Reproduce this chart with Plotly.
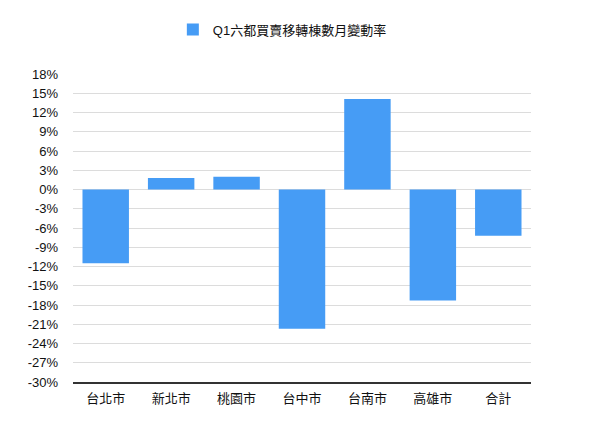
import plotly.graph_objects as go

# Q1 month-on-month change in transfer counts, six municipalities
cities = ['台北市', '新北市', '桃園市', '台中市', '台南市', '高雄市', '合計']
change = [-11.5, 1.8, 2.0, -21.7, 14.1, -17.3, -7.2]
series_name = 'Q1六都買賣移轉棟數月變動率'
tick_vals = list(range(-30, 19, 3))
tick_text = [str(v) + '%' for v in tick_vals]

fig = go.Figure()
fig.add_trace(go.Bar(x=cities, y=change, name=series_name,
                     marker=dict(color='#469cf5', line=dict(width=0)),
                     showlegend=True))

# page body has an 8px margin, so the figure is a bit smaller than the window
fig.update_layout(
    width=592, height=425,
    margin=dict(l=65, r=69, t=66, b=51, autoexpand=False),
    paper_bgcolor='white', plot_bgcolor='white',
    font=dict(family='Liberation Sans, Noto Sans CJK TC', size=13, color='#111'),
    bargap=0.29,
    showlegend=True,
    legend=dict(orientation='h', x=0.218, xanchor='left', y=1.1445,
                yanchor='middle', font=dict(size=13),
                itemwidth=30),
)
fig.update_yaxes(range=[-30, 18], tickvals=tick_vals, ticktext=tick_text,
                 showgrid=True, gridcolor='#dcdcdc', gridwidth=1,
                 zeroline=False, showline=False, ticks='', ticklabelstandoff=14)
fig.update_xaxes(showline=True, linecolor='#333', linewidth=1.5,
                 showgrid=False, ticks='', ticklabelstandoff=4)

fig.write_html('out.html')
